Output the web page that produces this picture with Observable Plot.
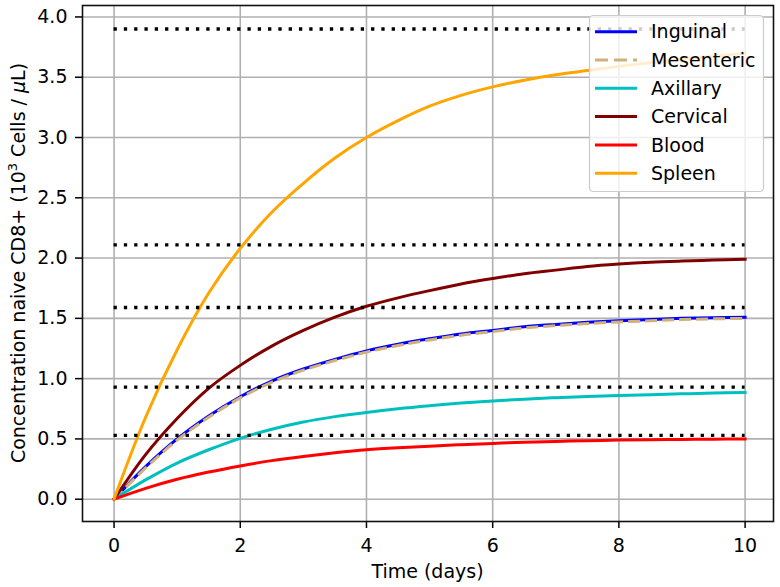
<!DOCTYPE html>
<html><head><meta charset="utf-8">
<script src="https://cdn.jsdelivr.net/npm/d3@7"></script>
<script src="https://cdn.jsdelivr.net/npm/@observablehq/plot@0.6"></script>
<style>body{margin:0;background:#fff;}</style>
</head><body><div id="chart"></div>
<script>
// ---- data ----
const days       = [0, 0.5, 1, 1.5, 2, 2.5, 3, 3.5, 4, 4.5, 5, 5.5, 6, 6.5, 7, 7.5, 8, 8.5, 9, 9.5, 10];
const inguinal   = [0, 0.27, 0.50, 0.69, 0.85, 0.98, 1.08, 1.16, 1.23, 1.285, 1.33, 1.37, 1.40, 1.43, 1.45, 1.467, 1.48, 1.49, 1.50, 1.506, 1.51];
const mesenteric = [0, 0.26, 0.49, 0.68, 0.84, 0.97, 1.07, 1.15, 1.22, 1.275, 1.32, 1.36, 1.39, 1.42, 1.44, 1.457, 1.47, 1.48, 1.49, 1.496, 1.50];
const axillary   = [0, 0.16, 0.30, 0.41, 0.505, 0.58, 0.64, 0.685, 0.72, 0.75, 0.775, 0.797, 0.815, 0.83, 0.842, 0.852, 0.86, 0.867, 0.874, 0.88, 0.885];
const cervical   = [0, 0.37, 0.67, 0.92, 1.11, 1.27, 1.40, 1.51, 1.60, 1.67, 1.73, 1.785, 1.83, 1.87, 1.90, 1.93, 1.95, 1.965, 1.975, 1.983, 1.99];
const blood      = [0, 0.09, 0.165, 0.225, 0.276, 0.32, 0.355, 0.385, 0.41, 0.427, 0.44, 0.452, 0.463, 0.472, 0.479, 0.485, 0.49, 0.493, 0.496, 0.498, 0.50];
const spleen     = [0, 0.68, 1.24, 1.71, 2.08, 2.38, 2.62, 2.83, 3.00, 3.14, 3.26, 3.35, 3.42, 3.475, 3.52, 3.555, 3.59, 3.62, 3.65, 3.675, 3.70];
const steadyLevels = [3.90, 2.11, 1.59, 0.93, 0.53];
const seriesNames  = ["Inguinal", "Mesenteric", "Axillary", "Cervical", "Blood", "Spleen"];
const seriesColors = ["#0000ff", "#d2b07a", "#00bfbf", "#800000", "#ff0000", "#ffa500"];
const xTicks = [0, 2, 4, 6, 8, 10];
const yTicks = [0, 0.5, 1, 1.5, 2, 2.5, 3, 3.5, 4];
const xLabel = "Time (days)";

const seriesValues = [inguinal, mesenteric, axillary, cervical, blood, spleen];
const dashes = [null, "12,5", null, null, null, null];
const rows = seriesNames.map((name, k) => days.map((d, i) => ({day: d, value: seriesValues[k][i], name})));

const lineMarks = rows.map((r, k) => Plot.line(r, {
  x: "day", y: "value", stroke: seriesColors[k], strokeWidth: 3,
  curve: "catmull-rom", strokeDasharray: dashes[k] || undefined,
  strokeLinecap: dashes[k] ? "butt" : "square"
}));

const tMin = d3.min(days), tMax = d3.max(days);

const svg = Plot.plot({
  width: 780, height: 587,
  marginLeft: 82, marginRight: 7, marginTop: 5, marginBottom: 66,
  style: {fontFamily: "'DejaVu Sans', sans-serif", fontSize: "19px", background: "#fff", color: "#000", overflow: "visible"},
  x: {domain: [-0.5, 10.45], label: null},
  y: {domain: [-0.185, 4.095], label: null},
  marks: [
    Plot.gridX(xTicks, {stroke: "#b0b0b0", strokeOpacity: 1, strokeWidth: 1.6}),
    Plot.gridY(yTicks, {stroke: "#b0b0b0", strokeOpacity: 1, strokeWidth: 1.6}),
    ...lineMarks,
    Plot.ruleY(steadyLevels, {x1: () => tMin, x2: () => tMax, stroke: "#000", strokeWidth: 3.3, strokeDasharray: "3.3,7"}),
    Plot.axisX(xTicks, {tickSize: 7, tickPadding: 10, fontSize: 19, strokeWidth: 1.5, label: null}),
    Plot.axisY(yTicks, {tickSize: 7, tickPadding: 8, fontSize: 19, strokeWidth: 1.5, tickFormat: d3.format(".1f"), label: null}),
    Plot.frame({stroke: "#111", strokeWidth: 1.6})
  ]
});
document.getElementById("chart").appendChild(svg);

const s = d3.select(svg);
// x label
s.append("text").attr("x", 427.5).attr("y", 578).attr("text-anchor", "middle")
  .attr("font-size", 19).attr("fill", "#000").text(xLabel);
// y label with superscript and italic mu
const yl = s.append("text").attr("transform", "translate(25,263) rotate(-90)")
  .attr("text-anchor", "middle").attr("font-size", 19).attr("fill", "#000");
yl.append("tspan").text("Concentration naive CD8+ (10");
yl.append("tspan").attr("font-size", 13).attr("dy", -8).text("3");
yl.append("tspan").attr("dy", 8).text(" Cells / ");
yl.append("tspan").attr("font-style", "italic").text("μ");
yl.append("tspan").text("L)");

// legend
const lg = s.append("g");
lg.append("rect").attr("x", 589.5).attr("y", 15.5).attr("width", 174).attr("height", 176)
  .attr("rx", 4).attr("fill", "#fff").attr("fill-opacity", 0.8).attr("stroke", "#cccccc").attr("stroke-width", 1.2);
seriesNames.forEach((name, k) => {
  const cy = 31.7 + k * 28.3;
  lg.append("line").attr("x1", 595).attr("x2", 637).attr("y1", cy).attr("y2", cy)
    .attr("stroke", seriesColors[k]).attr("stroke-width", 3)
    .attr("stroke-dasharray", k === 1 ? "13,6" : null);
  lg.append("text").attr("x", 651).attr("y", cy).attr("dy", "0.35em")
    .attr("text-anchor", "start")
    .attr("font-size", 19).attr("fill", "#000").text(name);
});
</script>
</body></html>
